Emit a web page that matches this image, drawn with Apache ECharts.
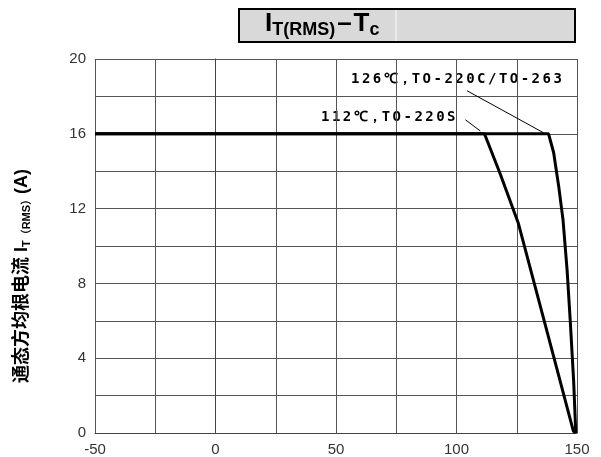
<!DOCTYPE html>
<html>
<head>
<meta charset="utf-8">
<script src="https://cdn.jsdelivr.net/npm/echarts@6/dist/echarts.min.js"></script>
<style>
  html, body { margin: 0; padding: 0; background: #fff; }
  #chart { width: 601px; height: 457px; }
</style>
</head>
<body>
<div id="chart"></div>
<script>
// 数据
var xTicks = [-50, 150, 50] // min, max, 标签间隔
var yTicks = [0, 20, 4]
var curve112 = [[-50, 16], [111.6, 16], [118, 13.9], [125.7, 11.2], [137, 5.7], [148.5, 0.1], [149.4, 0]]
var curve126 = [[-50, 16], [138.2, 16], [140.3, 15], [142.4, 13.2], [144.2, 11.4], [145.9, 8.7], [147.2, 6], [148.6, 2.8], [149.5, 0]]
var leader126 = [[104.4, 18.3], [136.2, 16.05]]
var leader112 = [[103.7, 16.75], [109.9, 16.15]]
var label126 = '126℃，TO-220C/TO-263'
var label112 = '112℃，TO-220S'

var gridColor = '#555'
var monoFont = "'DejaVu Sans Mono', 'Liberation Mono', monospace"
var sansFont = "'Liberation Sans', 'Noto Sans CJK SC', Arial, sans-serif"

// 点阵字体字距比较宽，这里每个字符单独占一个格子
function spaced(str) {
  return str.split('').map(function(ch) {
    return '{' + (ch.charCodeAt(0) > 255 ? 'w' : 'n') + '|' + ch + '}'
  }).join('')
}
var monoRich = {
  n: { width: 10.9, fontSize: 14, fontWeight: 'bold', fontFamily: monoFont, fill: '#000' },
  w: { width: 14, fontSize: 14, fontWeight: 'bold', fontFamily: monoFont, fill: '#000' }
}

function axisCommon(t) {
  return {
    type: 'value',
    min: t[0],
    max: t[1],
    interval: t[2],
    axisLine: { lineStyle: { color: '#444', width: 1 } },
    axisTick: { show: false },
    axisLabel: { color: '#333', fontSize: 15, fontFamily: 'Liberation Sans, Arial, sans-serif', margin: 9 },
    splitLine: { lineStyle: { color: gridColor, width: 1 } },
    minorTick: { show: false, splitNumber: 2 },
    minorSplitLine: { show: true, lineStyle: { color: gridColor, width: 1 } }
  }
}

var chart = echarts.init(document.getElementById('chart'))
chart.setOption({
  animation: false,
  backgroundColor: '#fff',
  grid: { left: 95, right: 24, top: 59, bottom: 24 },
  xAxis: axisCommon(xTicks),
  yAxis: axisCommon(yTicks),
  graphic: [
    // 标题框
    {
      type: 'rect',
      shape: { x: 239, y: 9, width: 336, height: 33 },
      style: { fill: '#d9d9d9', stroke: '#000', lineWidth: 2 }
    },
    {
      type: 'line',
      shape: { x1: 396, y1: 10, x2: 396, y2: 41 },
      style: { stroke: '#fff', lineWidth: 1 }
    },
    {
      type: 'text',
      style: {
        x: 265,
        y: 9,
        verticalAlign: 'top',
        text: '{a|I}{s|T(RMS)}{g| }{a|–}{g| }{a|T}{s|c}',
        rich: {
          a: { fontSize: 26, fontWeight: 'bold', fontFamily: 'Liberation Sans, Arial', lineHeight: 30, fill: '#000' },
          g: { fontSize: 7, lineHeight: 30 },
          s: { fontSize: 18, fontWeight: 'bold', fontFamily: 'Liberation Sans, Arial', lineHeight: 17, verticalAlign: 'bottom', fill: '#000' }
        }
      }
    },
    // 纵轴名称
    {
      type: 'text',
      x: 22,
      y: 276,
      rotation: Math.PI / 2,
      style: {
        x: 0,
        y: 0,
        align: 'center',
        verticalAlign: 'middle',
        text: '{c|通态方均根电流 I}{s|T（RMS）}{c|(A)}',
        rich: {
          c: { fontSize: 18, fontWeight: 'bold', fontFamily: sansFont, lineHeight: 20, fill: '#000' },
          s: { fontSize: 11, fontWeight: 'bold', fontFamily: sansFont, lineHeight: 13, verticalAlign: 'bottom', fill: '#000' }
        }
      }
    },
    // 曲线标注
    {
      type: 'text',
      style: { x: 351, y: 79, verticalAlign: 'middle', text: spaced(label126), rich: monoRich }
    },
    {
      type: 'text',
      style: { x: 321, y: 117.5, verticalAlign: 'middle', text: spaced(label112), rich: monoRich }
    }
  ],
  series: [
    {
      name: label112,
      type: 'line',
      symbol: 'none',
      data: curve112,
      lineStyle: { color: '#000', width: 3 },
      z: 5
    },
    {
      name: label126,
      type: 'line',
      symbol: 'none',
      data: curve126,
      lineStyle: { color: '#000', width: 3 },
      z: 5
    },
    {
      type: 'line',
      symbol: 'none',
      data: leader126,
      lineStyle: { color: '#000', width: 1 }
    },
    {
      type: 'line',
      symbol: 'none',
      data: leader112,
      lineStyle: { color: '#000', width: 1 }
    }
  ]
})
</script>
</body>
</html>
